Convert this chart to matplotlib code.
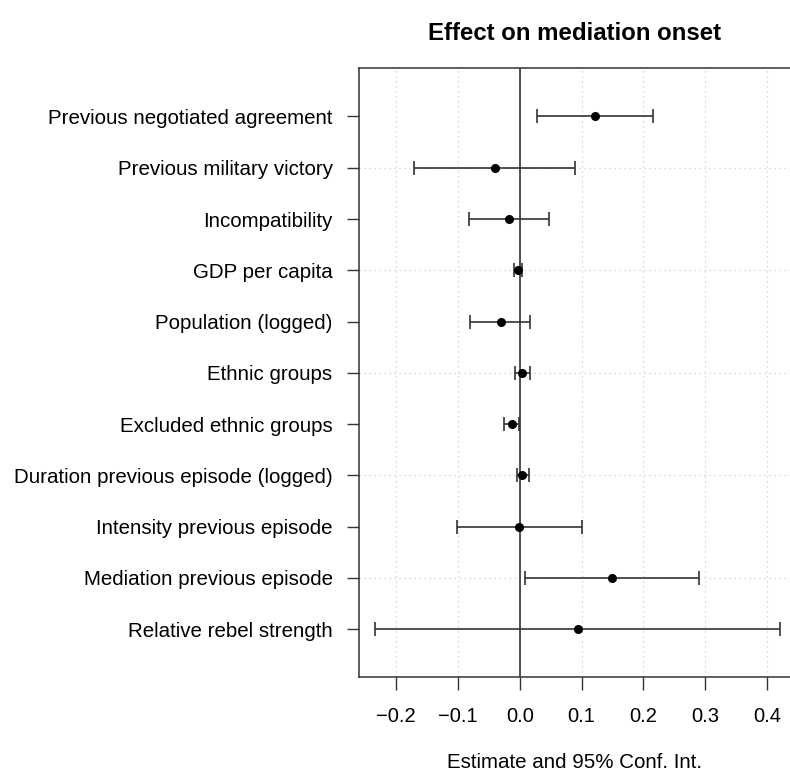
import matplotlib
matplotlib.use("Agg")
import matplotlib.pyplot as plt
import numpy as np

plt.rcParams['font.family'] = ['Liberation Sans', 'DejaVu Sans']

variables = [
    "Previous negotiated agreement",
    "Previous military victory",
    "Incompatibility",
    "GDP per capita",
    "Population (logged)",
    "Ethnic groups",
    "Excluded ethnic groups",
    "Duration previous episode (logged)",
    "Intensity previous episode",
    "Mediation previous episode",
    "Relative rebel strength",
]
estimates = [0.122, -0.040, -0.017, -0.002, -0.031, 0.004, -0.012, 0.004, -0.001, 0.149, 0.094]
ci_low = [0.028, -0.170, -0.082, -0.009, -0.080, -0.008, -0.025, -0.005, -0.102, 0.009, -0.234]
ci_high = [0.216, 0.090, 0.047, 0.003, 0.017, 0.016, -0.001, 0.015, 0.101, 0.289, 0.421]
xticks = [-0.2, -0.1, 0.0, 0.1, 0.2, 0.3, 0.4]

fig = plt.figure(figsize=(7.9, 7.74), dpi=100)
ax = fig.add_axes([359/790, 1-677.3/774, 1-359/790, (677.3-68.3)/774])

ypos = np.arange(1, len(variables) + 1)
est = np.array(estimates)
lo = np.array(ci_low)
hi = np.array(ci_high)

# grid
for xt in xticks:
    ax.axvline(xt, color='#cccccc', lw=0.9, ls=(0, (1, 3)), zorder=0)
for y in ypos[1::2]:
    ax.axhline(y, color='#cccccc', lw=0.9, ls=(0, (1, 3)), zorder=0)
ax.axvline(0, color='#222222', lw=1.1, zorder=1)

ax.errorbar(est, ypos, xerr=[est - lo, hi - est], fmt='o', color='black',
            ecolor='#333333', elinewidth=1.2, capsize=5, capthick=1.2,
            markersize=5.5, zorder=3)

ax.set_xlim(-0.2596, 0.4367)
ax.set_ylim(11.94, 0.06)
ax.set_yticks(ypos)
ax.set_yticklabels(variables, fontsize=14.8)
ax.set_xticks(xticks)
ax.set_xticklabels([f"{t:.1f}".replace('-', '\u2212') for t in xticks], fontsize=14.5)
ax.tick_params(axis='y', length=9, width=1, pad=10, color='#333333')
ax.tick_params(axis='x', length=9, width=1, pad=12.5, color='#333333')
for s in ['left', 'top', 'bottom']:
    ax.spines[s].set_linewidth(1.1)
    ax.spines[s].set_color('#333333')
ax.spines['right'].set_visible(False)

fig.text((359+790)/2/790, 1-33/774, "Effect on mediation onset", ha='center', va='center',
         fontsize=17.3, fontweight='bold')
fig.text((359+790)/2/790, 1-762/774, "Estimate and 95% Conf. Int.", ha='center', va='center',
         fontsize=14.8)

fig.savefig("out.png", dpi=100)
